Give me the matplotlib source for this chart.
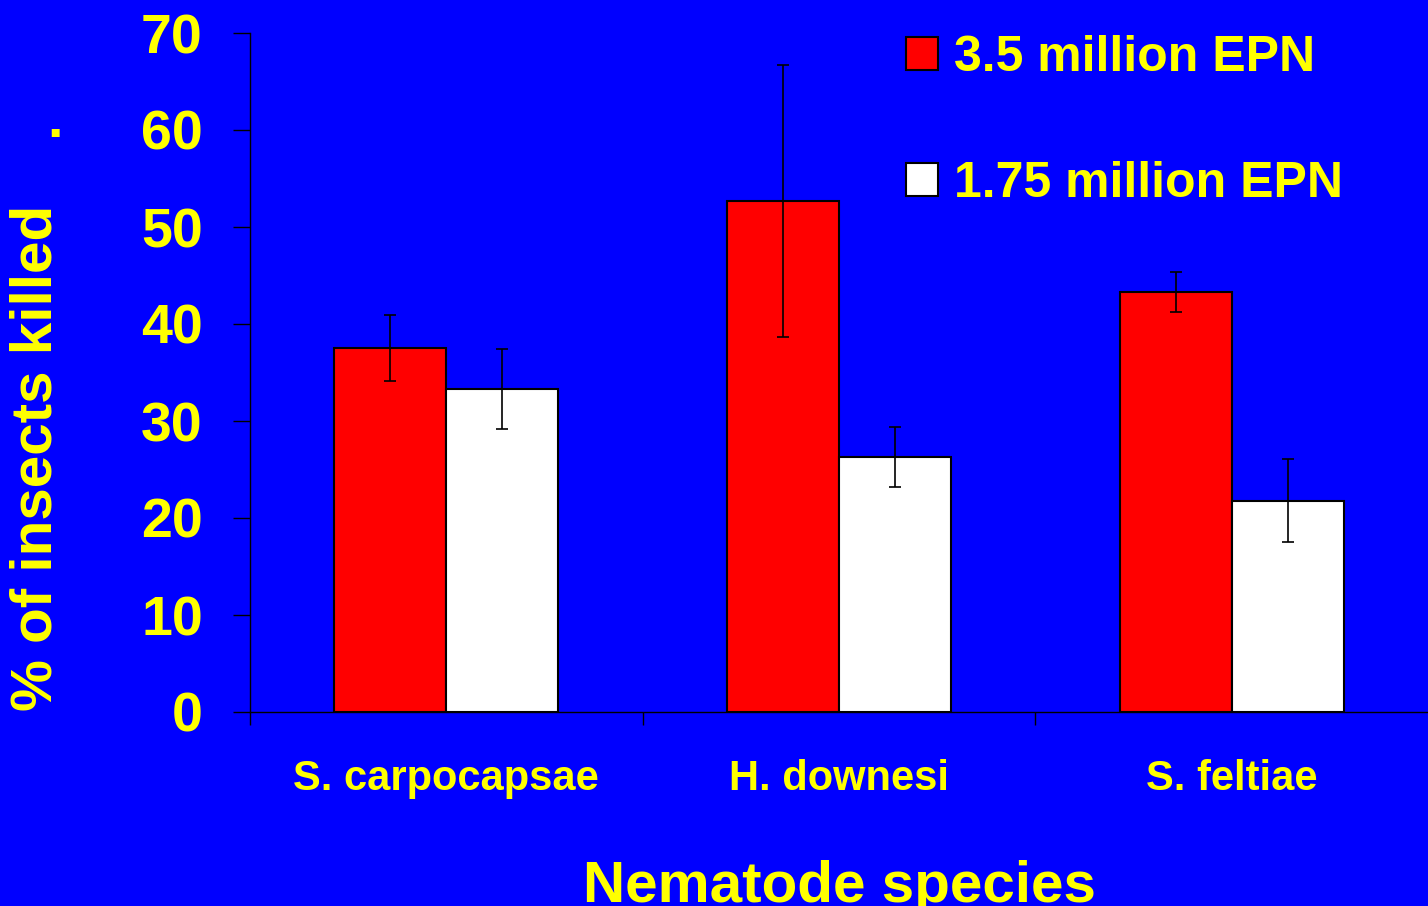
import matplotlib
matplotlib.use("Agg")
import matplotlib.pyplot as plt
import numpy as np
from matplotlib.patches import Patch

# data
species = ["S. carpocapsae", "H. downesi", "S. feltiae"]
high_dose = [37.5, 52.7, 43.3]      # 3.5 million EPN
high_err = [3.4, 14.0, 2.1]
low_dose = [33.3, 26.3, 21.8]       # 1.75 million EPN
low_err = [4.1, 3.1, 4.3]
series_labels = ["3.5 million EPN", "1.75 million EPN"]

blue = "#0000FF"
yellow = "#FFFF00"

plt.rcParams["font.family"] = ["Liberation Sans", "DejaVu Sans"]
plt.rcParams["font.weight"] = "bold"

fig = plt.figure(figsize=(14.28, 9.06), dpi=100, facecolor=blue)
ax = fig.add_axes([250 / 1428, 194 / 906, 1178 / 1428, 679 / 906])
ax.set_facecolor(blue)

x = np.arange(len(species))
w = 0.285
err_style = dict(ecolor="black", elinewidth=1.2, capsize=4.5, capthick=1.2)
ax.bar(x - w / 2, high_dose, w, color="#FF0000", edgecolor="black", linewidth=1.5,
       yerr=high_err, error_kw=err_style, label=series_labels[0], zorder=2)
ax.bar(x + w / 2, low_dose, w, color="white", edgecolor="black", linewidth=1.5,
       yerr=low_err, error_kw=err_style, label=series_labels[1], zorder=2)

ax.set_xlim(-0.5, 2.5)
ax.set_ylim(0, 70)
ax.set_yticks(np.arange(0, 71, 10))
ax.tick_params(axis="y", direction="out", length=12, width=1, color="black",
               labelsize=40, labelcolor=yellow, pad=22)

# category labels centred, separator ticks between groups
ax.set_xticks(x)
ax.set_xticklabels(species, fontsize=30, color=yellow, fontweight="bold")
ax.tick_params(axis="x", which="major", length=0, pad=34)
ax.set_xticks([-0.5, 0.5, 1.5], minor=True)
ax.tick_params(axis="x", which="minor", direction="out", length=9, width=1, color="black")

for lab in ax.get_yticklabels():
    lab.set_fontweight("bold")

for side in ["top", "right"]:
    ax.spines[side].set_visible(False)
for side in ["left", "bottom"]:
    ax.spines[side].set_color("black")
    ax.spines[side].set_linewidth(1)

ax.set_xlabel("Nematode species", fontsize=42, color=yellow, fontweight="bold", labelpad=44)
fig.text(37 / 1428, 1 - 458 / 906, "% of insects killed", rotation=90, fontsize=42,
         color=yellow, fontweight="bold", ha="center", va="center")
fig.text(55 / 1428, 1 - 123 / 906, ".", fontsize=40, color=yellow, fontweight="bold",
         ha="center", va="center")

handles = [Patch(facecolor="#FF0000", edgecolor="black", linewidth=1.5),
           Patch(facecolor="white", edgecolor="black", linewidth=1.5)]
leg = ax.legend(handles, series_labels, loc="upper left",
                bbox_to_anchor=(906 / 1428, 1 - 35 / 906), bbox_transform=fig.transFigure,
                frameon=False, fontsize=36, handlelength=0.64, handleheight=0.64,
                handletextpad=0.32, labelspacing=1.6, borderpad=0, borderaxespad=0)
for t in leg.get_texts():
    t.set_color(yellow)
    t.set_fontweight("bold")

fig.savefig("out.png", dpi=100, facecolor=blue)
